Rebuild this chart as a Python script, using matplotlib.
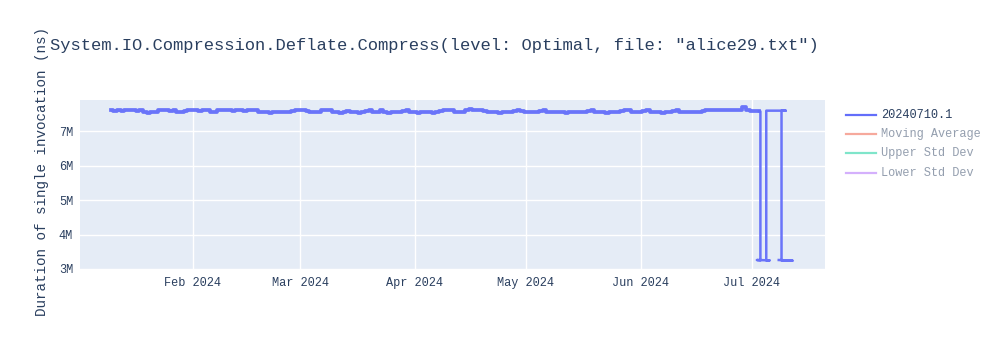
import pandas as pd
import matplotlib
matplotlib.use("Agg")
import matplotlib.pyplot as plt
import matplotlib.dates as mdates
from matplotlib.lines import Line2D
from matplotlib.ticker import FuncFormatter

plt.rcParams['font.family'] = ['Liberation Mono', 'DejaVu Sans Mono']

title = 'System.IO.Compression.Deflate.Compress(level: Optimal, file: "alice29.txt")'
y_label = "Duration of single invocation (ns)"

# daily durations (millions of ns), starting 2024-01-10
daily_start = "2024-01-10"
daily_ms = [
    7.61, 7.60, 7.61, 7.60, 7.61, 7.62, 7.61, 7.60, 7.61, 7.55,
    7.54, 7.56, 7.55, 7.61, 7.62, 7.61, 7.60, 7.61, 7.57, 7.56,
    7.58, 7.61, 7.62, 7.61, 7.60, 7.61, 7.62, 7.56, 7.57, 7.61,
    7.62, 7.61, 7.61, 7.60, 7.62, 7.61, 7.60, 7.61, 7.62, 7.61,
    7.56, 7.55, 7.57, 7.54, 7.56, 7.55, 7.57, 7.56, 7.55, 7.58,
    7.61, 7.62, 7.61, 7.60, 7.56, 7.57, 7.55, 7.61, 7.62, 7.61,
    7.55, 7.57, 7.54, 7.56, 7.58, 7.55, 7.57, 7.54, 7.56, 7.58,
    7.61, 7.56, 7.55, 7.61, 7.56, 7.54, 7.57, 7.55, 7.56, 7.58,
    7.61, 7.55, 7.57, 7.54, 7.56, 7.55, 7.57, 7.54, 7.56, 7.58,
    7.61, 7.62, 7.61, 7.57, 7.56, 7.55, 7.61, 7.64, 7.61, 7.62,
    7.61, 7.60, 7.56, 7.55, 7.57, 7.54, 7.56, 7.55, 7.57, 7.58,
    7.61, 7.60, 7.56, 7.55, 7.57, 7.56, 7.58, 7.61, 7.56, 7.55,
    7.57, 7.55, 7.56, 7.54, 7.57, 7.55, 7.56, 7.55, 7.57, 7.60,
    7.61, 7.56, 7.55, 7.57, 7.54, 7.56, 7.55, 7.57, 7.58, 7.61,
    7.62, 7.56, 7.55, 7.57, 7.58, 7.61, 7.56, 7.55, 7.57, 7.54,
    7.56, 7.55, 7.58, 7.61, 7.56, 7.55, 7.57, 7.56, 7.55, 7.57,
    7.58, 7.61, 7.62, 7.61, 7.62, 7.61, 7.62, 7.63, 7.62, 7.63,
    7.63, 7.70, 7.62, 7.60, 7.59, 7.58,
]

# last runs, in the order they were recorded
tail_times = [
    "2024-07-03 09:00", "2024-07-03 09:00", "2024-07-02 10:00", "2024-07-05 22:00",
    "2024-07-04 23:00", "2024-07-04 23:00", "2024-07-10 05:00", "2024-07-09 02:00",
    "2024-07-09 02:00", "2024-07-12 03:00", "2024-07-08 08:00",
]
tail_ms = [7.58, 3.25, 3.26, 3.25, 3.25, 7.60, 7.60, 7.60, 3.25, 3.24, 3.26]

legend_names = ["20240710.1", "Moving Average", "Upper Std Dev", "Lower Std Dev"]
legend_colors = ["#636efa", "#EF553B", "#00cc96", "#ab63fa"]

daily = pd.DataFrame({"time": pd.date_range(daily_start, periods=len(daily_ms), freq="D"),
                      "duration": [v * 1e6 for v in daily_ms]})
tail = pd.DataFrame({"time": pd.to_datetime(tail_times),
                     "duration": [v * 1e6 for v in tail_ms]})
tail = pd.concat([daily.tail(1), tail], ignore_index=True)

fig = plt.figure(figsize=(10, 3.5), dpi=100)
ax = fig.add_axes([0.08, 0.2286, 0.745, 0.4857])
ax.set_facecolor("#e5ecf6")
for s in ax.spines.values():
    s.set_visible(False)
ax.grid(True, color="white", lw=1)
ax.set_axisbelow(True)

line_col = "#636efa"
ax.plot(daily["time"], daily["duration"], color=line_col, lw=2.7,
        drawstyle="steps-mid", alpha=0.95)
ax.plot(tail["time"], tail["duration"], color=line_col, lw=1.8, alpha=0.95)

ax.set_xlim(pd.Timestamp("2024-01-01 12:00"), pd.Timestamp("2024-07-20 20:00"))
ax.set_ylim(2.97e6, 7.91e6)
ax.set_yticks([3e6, 4e6, 5e6, 6e6, 7e6])
ax.yaxis.set_major_formatter(FuncFormatter(lambda v, p: f"{v/1e6:.0f}M"))
ax.xaxis.set_major_locator(mdates.MonthLocator(bymonth=[2, 3, 4, 5, 6, 7]))
ax.xaxis.set_major_formatter(mdates.DateFormatter("%b %Y"))
ax.tick_params(length=0, labelsize=8.6, colors="#2a3f5f", pad=5)

fig.text(0.05, 0.87, title, fontsize=12.3, color="#2a3f5f", va="center", ha="left")
fig.text(0.042, 0.51, y_label, fontsize=10.3, color="#2a3f5f", rotation=90,
         va="center", ha="center")

# legend
for i, (name, col) in enumerate(zip(legend_names, legend_colors)):
    y = 1 - (115 + i * 19.2) / 350
    a = 1.0 if i == 0 else 0.5
    fig.add_artist(Line2D([0.846, 0.876], [y, y], transform=fig.transFigure,
                          color=col, lw=1.6, alpha=a))
    fig.text(0.881, y, name, fontsize=8.6, color="#2a3f5f", alpha=a,
             va="center", ha="left")

plt.savefig("out.png")
